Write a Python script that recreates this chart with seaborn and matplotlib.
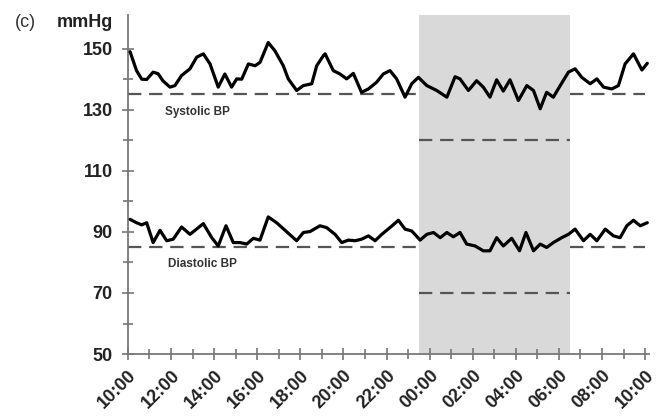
import matplotlib
matplotlib.use("Agg")
import matplotlib.pyplot as plt
import seaborn as sns
import pandas as pd
import numpy as np

# ---- data (hours after 10:00) ----
sys_hours = [0.1, 0.4, 0.64, 0.87, 1.17, 1.4, 1.62, 1.95, 2.18, 2.49, 2.88, 3.19, 3.5, 3.81,
             4.19, 4.5, 4.81, 5.05, 5.28, 5.59, 5.9, 6.13, 6.51, 6.82, 7.21, 7.44, 7.83, 8.14,
             8.53, 8.76, 9.07, 9.15, 9.53, 9.84, 10.15, 10.46, 10.84, 11.16, 11.54, 11.85, 12.16,
             12.47, 12.86, 13.17, 13.48, 13.87, 14.33, 14.8, 15.18, 15.41, 15.8, 16.18, 16.49,
             16.8, 17.11, 17.42, 17.73, 18.12, 18.51, 18.82, 19.13, 19.43, 19.74, 20.06, 20.44,
             20.75, 21.06, 21.45, 21.76, 22.07, 22.45, 22.76, 23.07, 23.46, 23.85, 24.1]
sys_values = [149, 142.8, 140, 139.9, 142.3, 141.8, 139.5, 137.4, 137.9, 141.2, 143.4, 147.2,
              148.3, 145, 137.4, 141.7, 137.4, 140.1, 140, 145, 144.4, 145.5, 152, 149.3, 144.4,
              140.1, 136.3, 137.9, 138.5, 144.4, 147.7, 148.3, 142.8, 141.7, 140.1, 141.9, 135.7,
              136.8, 139, 141.7, 142.8, 140.1, 134.1, 138.5, 140.6, 137.9, 136.3, 134.1, 140.8,
              140.1, 136.3, 139.5, 137.4, 134.1, 139.8, 136.1, 139.8, 133, 137.9, 136.3, 130.3,
              135.7, 134.1, 137.9, 142.3, 143.4, 140.6, 138.5, 140.1, 137.4, 136.8, 137.9, 145,
              148.3, 143, 145.2]

dia_hours = [0.1, 0.4, 0.64, 0.87, 1.17, 1.49, 1.8, 2.1, 2.49, 2.88, 3.5, 3.89, 4.19, 4.55,
             4.89, 5.2, 5.51, 5.82, 6.13, 6.51, 6.9, 7.83, 8.14, 8.45, 8.91, 9.22, 9.61, 9.92,
             10.23, 10.54, 10.84, 11.16, 11.47, 11.78, 12.16, 12.55, 12.86, 13.17, 13.56, 13.87,
             14.18, 14.49, 14.8, 15.1, 15.41, 15.72, 16.11, 16.49, 16.8, 17.11, 17.42, 17.81,
             18.17, 18.47, 18.82, 19.13, 19.43, 19.74, 20.13, 20.44, 20.75, 21.14, 21.45, 21.76,
             22.15, 22.53, 22.84, 23.15, 23.46, 23.77, 24.1]
dia_values = [94.1, 93, 92.3, 93, 86.5, 90.5, 87.1, 87.6, 91.6, 89.2, 92.7, 88.1, 85.4, 92,
              86.5, 86.5, 86, 87.9, 87.3, 94.9, 93, 87.1, 89.8, 90.1, 92, 91.4, 89.2, 86.5, 87.3,
              87.1, 87.6, 88.7, 87.1, 89.2, 91.4, 93.8, 90.9, 90.3, 87.3, 89.2, 89.8, 88.1, 89.8,
              88.4, 89.8, 86, 85.4, 83.8, 83.8, 88.1, 85.4, 87.9, 83.8, 89.8, 83.8, 86, 84.9,
              86.5, 88.1, 89.2, 90.9, 87.1, 89.2, 87.1, 90.9, 88.7, 88.1, 92, 93.8, 92, 93]

day_thresholds = [135, 85]
night_thresholds = [120, 70]
night_start, night_end = 13.5, 20.5   # 23:30 -> 06:30
tick_hours = list(range(0, 25, 2))
tick_labels = ["10:00", "12:00", "14:00", "16:00", "18:00", "20:00", "22:00",
               "00:00", "02:00", "04:00", "06:00", "08:00", "10:00"]
series_labels = ["Systolic BP", "Diastolic BP"]

df = pd.concat([
    pd.DataFrame({"hour": sys_hours, "mmHg": sys_values, "series": "sys"}),
    pd.DataFrame({"hour": dia_hours, "mmHg": dia_values, "series": "dia"}),
])

sns.set_theme(style="white")
plt.rcParams["font.family"] = ["Liberation Sans", "DejaVu Sans"]

fig = plt.figure(figsize=(6.56, 4.18), dpi=100)
ax = fig.add_axes([0.195, 0.153, 0.795, 0.811])

ax.axvspan(night_start, night_end, color="#d9d9d9", lw=0, zorder=0)

sns.lineplot(data=df, x="hour", y="mmHg", units="series", estimator=None, sort=False,
             color="black", lw=2.3, ax=ax, zorder=3)

dash_kw = dict(color="#555555", lw=1.6, linestyles=(0, (6, 3.5)), zorder=2)
for d in day_thresholds:
    ax.hlines(d, 0, night_start, **dash_kw)
    ax.hlines(d, night_end, 24, **dash_kw)
for n in night_thresholds:
    ax.hlines(n, night_start, night_end, **dash_kw)

ax.set_xlim(0, 24.2)
ax.set_ylim(50, 161)
ax.set_xticks(tick_hours)
ax.set_xticklabels(tick_labels, rotation=45, ha="right", rotation_mode="anchor")
ax.set_xticks(range(0, 25), minor=True)
ax.set_yticks(range(50, 151, 20))
ax.set_yticks(range(60, 151, 20), minor=True)
ax.set_xlabel("")
ax.set_ylabel("")

for s in ["top", "right"]:
    ax.spines[s].set_visible(False)
for s in ["left", "bottom"]:
    ax.spines[s].set_color("#777777")
    ax.spines[s].set_linewidth(1.3)

ax.tick_params(axis="both", which="both", direction="inout", color="#777777", width=1.2,
               labelsize=13, labelcolor="#222222", bottom=True, left=True)
ax.tick_params(axis="y", which="major", length=8, pad=7)
ax.tick_params(axis="x", which="major", length=8, pad=5)
ax.tick_params(axis="both", which="minor", length=7)
for lab in ax.get_xticklabels() + ax.get_yticklabels():
    lab.set_fontweight("bold")

fig.text(0.022, 0.935, "(c)", fontsize=13, color="#333333")
fig.text(0.086, 0.935, "mmHg", fontsize=13, fontweight="bold", color="#222222")

ax.text(1.7, 128.3, series_labels[0], fontsize=8.5, fontweight="bold", color="#333333")
ax.text(1.85, 78.6, series_labels[1], fontsize=8.5, fontweight="bold", color="#333333")

fig.savefig("out.png", dpi=100)
